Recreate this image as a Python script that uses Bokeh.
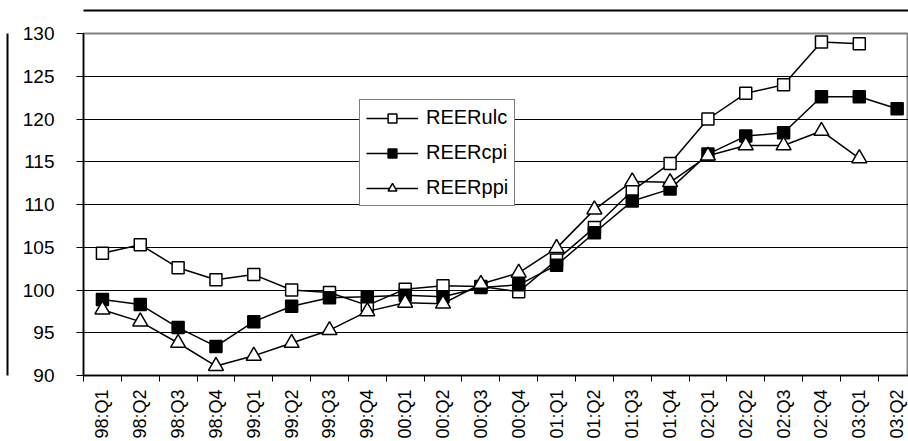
import math
from bokeh.plotting import figure
from bokeh.models import FixedTicker, Range1d, Legend, LegendItem, ColumnDataSource, LinearAxis
from bokeh.embed import file_html
from bokeh.resources import INLINE

quarters = ["98:Q1", "98:Q2", "98:Q3", "98:Q4", "99:Q1", "99:Q2", "99:Q3", "99:Q4",
            "00:Q1", "00:Q2", "00:Q3", "00:Q4", "01:Q1", "01:Q2", "01:Q3", "01:Q4",
            "02:Q1", "02:Q2", "02:Q3", "02:Q4", "03:Q1", "03:Q2"]

reer_ulc = [104.3, 105.3, 102.6, 101.2, 101.8, 100.0, 99.7, 98.2, 100.1, 100.5, 100.4, 99.8,
            103.5, 107.3, 111.6, 114.8, 120.0, 123.0, 124.0, 129.0, 128.8]
reer_cpi = [98.9, 98.3, 95.6, 93.4, 96.3, 98.1, 99.1, 99.2, 99.4, 99.2, 100.3, 100.6,
            102.9, 106.7, 110.4, 111.8, 115.9, 118.0, 118.4, 122.6, 122.6, 121.2]
reer_ppi = [97.7, 96.3, 93.8, 91.1, 92.3, 93.8, 95.3, 97.5, 98.5, 98.4, 100.7, 102.0,
            104.9, 109.4, 112.7, 112.6, 115.7, 116.9, 116.9, 118.6, 115.4]

y_ticks = [90, 95, 100, 105, 110, 115, 120, 125, 130]

FONT = "Liberation Sans"

p = figure(width=908, height=441, output_backend="svg", toolbar_location=None,
           x_range=Range1d(0, 21.80), y_range=Range1d(90, 130),
           min_border_left=83, min_border_right=0, min_border_top=33, min_border_bottom=64)

p.background_fill_color = "white"
p.border_fill_color = "white"
p.outline_line_color = "#808080"
p.outline_line_width = 2

centres = [i + 0.5 for i in range(len(quarters))]
bounds = [float(i) for i in range(len(quarters) + 1)]
p.xaxis.ticker = FixedTicker(ticks=centres, minor_ticks=bounds)
p.xaxis.major_label_overrides = {c: q for c, q in zip(centres, quarters)}
p.xaxis.major_tick_line_color = None
p.xaxis.minor_tick_out = 6
p.xaxis.minor_tick_in = 0
p.xaxis.minor_tick_line_color = "black"
p.xaxis.major_label_orientation = math.pi / 2
p.xaxis.major_label_text_font = FONT
p.xaxis.major_label_text_font_size = "18px"
p.xaxis.major_label_text_color = "black"
p.xaxis.major_label_standoff = 8
p.xaxis.axis_line_color = "black"
p.xaxis.axis_line_width = 1.5
p.xgrid.grid_line_color = None

p.yaxis.ticker = FixedTicker(ticks=y_ticks)
p.yaxis.major_tick_out = 7
p.yaxis.major_tick_in = 0
p.yaxis.minor_tick_line_color = None
p.yaxis.major_tick_line_color = "black"
p.yaxis.major_label_text_font = FONT
p.yaxis.major_label_text_font_size = "19px"
p.yaxis.major_label_text_color = "black"
p.yaxis.major_label_standoff = 22
p.yaxis.axis_line_color = "black"
p.yaxis.axis_line_width = 1.5
# blank axis label only widens the axis panel (pushes the chart-area edge outward)
p.yaxis.axis_label = " "
p.yaxis.axis_label_text_font_size = "8px"
p.yaxis.axis_label_standoff = 0
p.ygrid.ticker = FixedTicker(ticks=y_ticks[1:-1])
p.ygrid.grid_line_color = "black"
p.ygrid.grid_line_width = 1

def bare_axis(line_color, label_size=None, standoff=0):
    ax = LinearAxis(ticker=FixedTicker(ticks=[]), axis_line_color=line_color,
                    axis_line_width=2, major_tick_line_color=None,
                    minor_tick_line_color=None, major_label_text_font_size="0px")
    if label_size:
        ax.axis_label = " "
        ax.axis_label_text_font_size = label_size
        ax.axis_label_standoff = standoff
    return ax

# chart-area border: left edge and top edge
p.add_layout(bare_axis("black"), "left")
p.add_layout(bare_axis(None, "14px", 4), "above")
p.add_layout(bare_axis("black"), "above")

def src(vals):
    return ColumnDataSource(dict(x=centres[:len(vals)], y=vals))

s1, s2, s3 = src(reer_ulc), src(reer_cpi), src(reer_ppi)

l1 = p.line("x", "y", source=s1, line_color="black", line_width=1.5)
m1 = p.scatter("x", "y", source=s1, marker="square", size=12, fill_color="white",
               line_color="black", line_width=1.5)
l2 = p.line("x", "y", source=s2, line_color="black", line_width=1.5)
m2 = p.scatter("x", "y", source=s2, marker="square", size=12, fill_color="black",
               line_color="black", line_width=1.5)
l3 = p.line("x", "y", source=s3, line_color="black", line_width=1.5)
m3 = p.scatter("x", "y", source=s3, marker="triangle", size=15, fill_color="white",
               line_color="black", line_width=1.5)

legend = Legend(items=[LegendItem(label="REERulc", renderers=[l1, m1]),
                       LegendItem(label="REERcpi", renderers=[l2, m2]),
                       LegendItem(label="REERppi", renderers=[l3, m3])],
                location=(276, 169))
legend.margin = 0
legend.padding = 6
legend.spacing = 12
legend.label_height = 22
legend.glyph_height = 22
legend.glyph_width = 52
legend.label_standoff = 8
legend.label_text_font = FONT
legend.label_text_font_size = "20px"
legend.label_text_color = "black"
legend.border_line_color = "black"
legend.border_line_width = 1
legend.background_fill_color = "white"
legend.background_fill_alpha = 1
p.add_layout(legend, "center")

open("out.html", "w").write(file_html(p, INLINE))
